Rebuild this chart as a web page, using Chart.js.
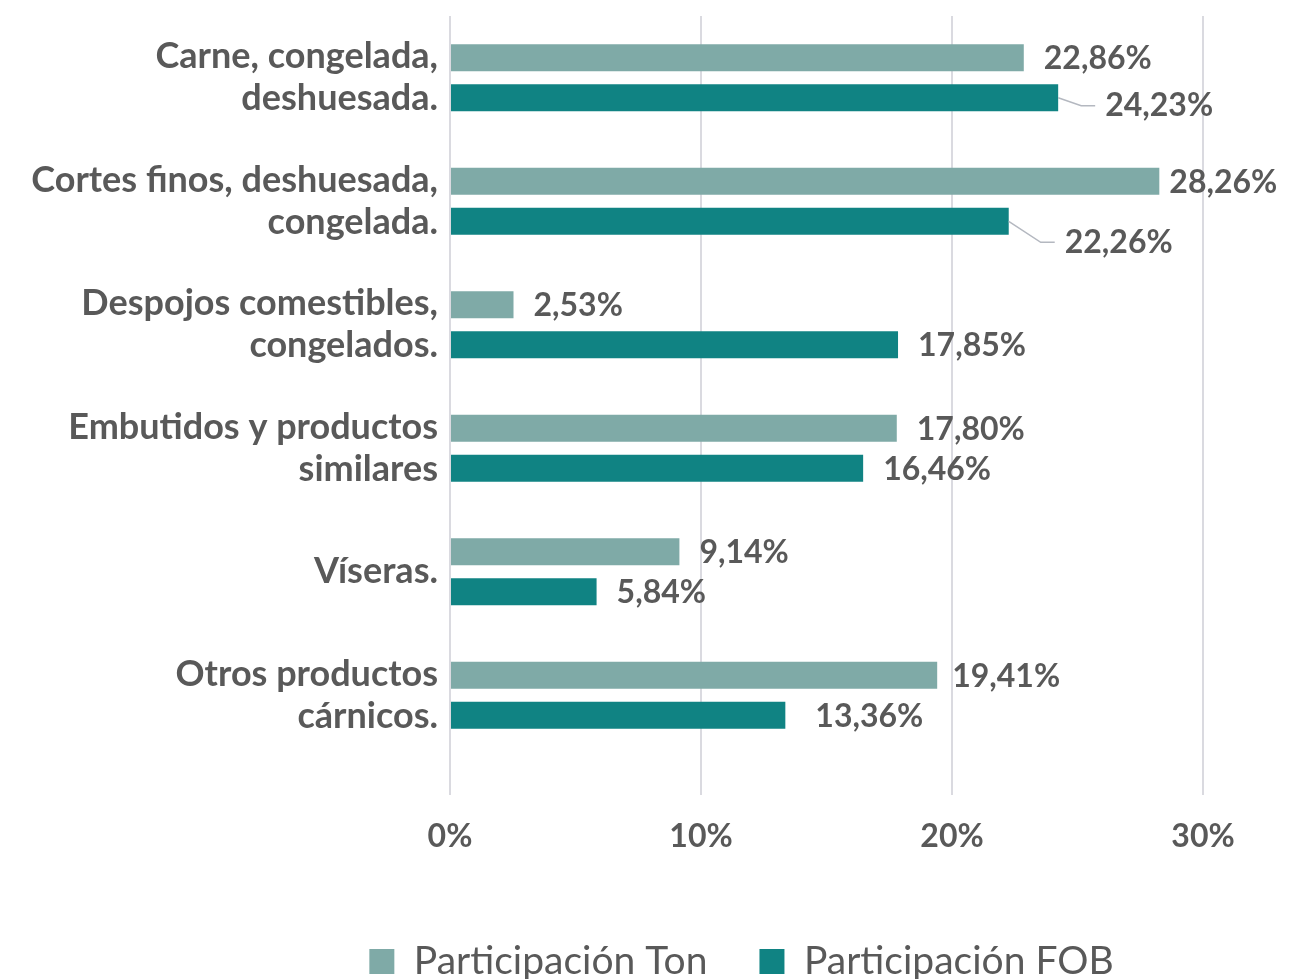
<!DOCTYPE html>
<html lang="es">
  <head>
    <meta charset="utf-8">
    <title>Participación</title>
    <script src="https://cdn.jsdelivr.net/npm/chart.js@4/dist/chart.umd.min.js"></script>
    <style>
      html, body { margin: 0; padding: 0; background: #fff; }
      #wrap { width: 1306px; height: 979px; }
    </style>
  </head>
  <body>
    <div id="wrap"><canvas id="chart"></canvas></div>

    <script type="text/javascript">

    var categories = [
      ["Carne, congelada,", "deshuesada."],
      ["Cortes finos, deshuesada,", "congelada."],
      ["Despojos comestibles,", "congelados."],
      ["Embutidos y productos", "similares"],
      ["Víseras."],
      ["Otros productos", "cárnicos."]
    ]

    var tonValues = [22.86, 28.26, 2.53, 17.80, 9.14, 19.41]
    var fobValues = [24.23, 22.26, 17.85, 16.46, 5.84, 13.36]

    var xTicks = [0, 10, 20, 30]

    var textColor = '#595959'
    var fontName = 'Lato'

    // gap between bar end and its label
    var labelGaps = {
      '1-0': 10,
      '5-0': 15,
      '5-1': 30
    }
    // labels pulled away with a leader line
    var leaders = {
      '0-1': {dx: 37, dy: 8},
      '1-1': {dx: 46, dy: 21}
    }

    function fmt(v){
      return v.toFixed(2).replace('.', ',') + '%'
    }

    var valueLabels = {
      id: 'valueLabels',
      afterDatasetsDraw: function(chart){
        var ctx = chart.ctx
        ctx.save()
        ctx.font = 'bold 32px ' + fontName
        ctx.fillStyle = textColor
        ctx.textBaseline = 'middle'
        ctx.textAlign = 'left'
        chart.data.datasets.forEach(function(ds, di){
          var meta = chart.getDatasetMeta(di)
          meta.data.forEach(function(bar, i){
            var key = i + '-' + di
            var lead = leaders[key]
            if(lead){
              var x0 = bar.x, y0 = bar.y
              ctx.strokeStyle = '#b4b8c0'
              ctx.lineWidth = 1.5
              ctx.beginPath()
              ctx.moveTo(x0, y0)
              ctx.lineTo(x0 + lead.dx - 14, y0 + lead.dy)
              ctx.lineTo(x0 + lead.dx, y0 + lead.dy)
              ctx.stroke()
              ctx.fillText(fmt(ds.data[i]), x0 + lead.dx + 10, y0 + lead.dy)
            } else {
              var gap = labelGaps[key] !== undefined ? labelGaps[key] : 20
              ctx.fillText(fmt(ds.data[i]), bar.x + gap, bar.y + 1)
            }
          })
        })
        ctx.restore()
      }
    }

    // nudge the legend to where it sits in the original
    var legendShift = {
      id: 'legendShift',
      afterLayout: function(chart){
        var lg = chart.legend
        lg.left += 140; lg.right += 140
        lg.top += 12; lg.bottom += 12
      }
    }

    var ctx = document.getElementById('chart').getContext('2d')
    var chart = new Chart(ctx, {
      type: 'bar',
      data: {
        labels: categories,
        datasets: [{
          label: 'Participación Ton',
          data: tonValues,
          backgroundColor: '#7faaa7',
          categoryPercentage: 0.648,
          barPercentage: 0.675
        }, {
          label: 'Participación FOB',
          data: fobValues,
          backgroundColor: '#108383',
          categoryPercentage: 0.648,
          barPercentage: 0.675
        }]
      },
      options: {
        indexAxis: 'y',
        responsive: true,
        maintainAspectRatio: false,
        animation: false,
        layout: {
          padding: {top: 16, right: 103, left: 0, bottom: 0}
        },
        scales: {
          x: {
            min: 0,
            max: 30,
            afterBuildTicks: function(scale){
              scale.ticks = xTicks.map(function(v){ return {value: v} })
            },
            border: {display: false},
            grid: {color: '#dadae0', lineWidth: 2, tickLength: 38},
            ticks: {
              padding: 22,
              color: textColor,
              font: {family: fontName, size: 32, weight: 'bold'},
              callback: function(v){ return v + '%' }
            },
            afterFit: function(scale){
              scale.height = scale.chart.height - scale.chart.legend.height - 757
              scale.paddingLeft = 0
              scale.paddingRight = 0
            }
          },
          y: {
            border: {display: false},
            grid: {display: false},
            ticks: {
              padding: 4,
              color: textColor,
              font: {family: fontName, size: 36, weight: 'bold', lineHeight: 1.17}
            },
            afterFit: function(scale){
              scale.width = 450
              scale.paddingTop = 0
              scale.paddingBottom = 0
            }
          }
        },
        plugins: {
          tooltip: {enabled: false},
          legend: {
            position: 'bottom',
            labels: {
              color: textColor,
              font: {family: fontName, size: 39},
              boxWidth: 25,
              boxHeight: 25,
              padding: 52
            }
          }
        }
      },
      plugins: [valueLabels, legendShift]
    })

    </script>
  </body>
</html>
